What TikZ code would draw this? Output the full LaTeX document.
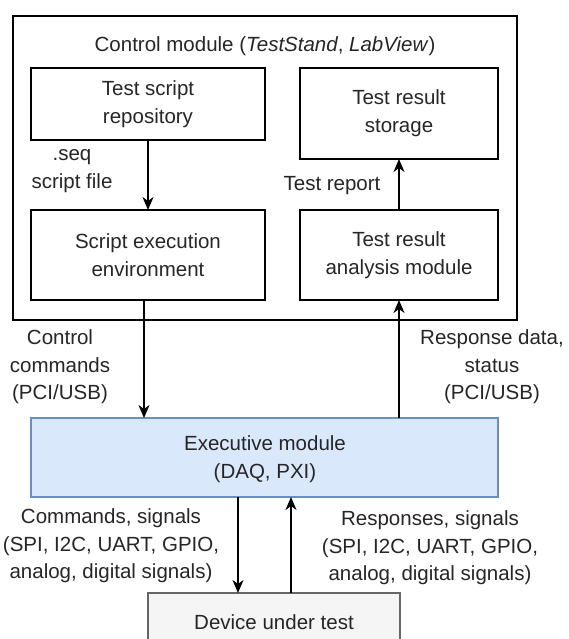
\documentclass[tikz,border=0pt]{standalone}
\usepackage{fontspec}
\setmainfont{Liberation Sans}
\usetikzlibrary{arrows.meta}
\definecolor{bluefill}{HTML}{DAE8FC}
\definecolor{blueline}{HTML}{6C8EBF}
\definecolor{greyfill}{HTML}{F5F5F5}
\definecolor{greyline}{HTML}{666666}
\begin{document}
\begin{tikzpicture}[x=1pt,y=-1pt,
  every node/.style={font=\fontsize{20.5}{27.5}\selectfont, align=center, inner sep=0pt},
  box/.style={draw=black, line width=1.4pt},
  lbl/.style={text=black!85},
  arr/.style={line width=1.4pt, -{Stealth[length=13pt,width=11pt,inset=4pt]}}]
\useasboundingbox (0,0) rectangle (568,639);
\clip (0,0) rectangle (568,639);
\fill[white] (0,0) rectangle (568,639);
% outer control module
\draw[box] (13,16) rectangle (517,320);
\node[lbl] (title) at (265,46) {Control module (\textit{TestStand}, \textit{LabView})};
% inner boxes
\draw[box] (31,68) rectangle (265,140);
\node[lbl] (repo) at (148,104) {Test script\\repository};
\coordinate (repoB) at (148,140);
\draw[box] (300,68) rectangle (498,159);
\node[lbl] (stor) at (399,113) {Test result\\storage};
\coordinate (storB) at (399,159);
\draw[box] (31,210) rectangle (265,300);
\node[lbl] (exe) at (148,255) {Script execution\\environment};
\coordinate (exeT) at (148,210);
\coordinate (exeB) at (144,300);
\draw[box] (300,210) rectangle (498,300);
\node[lbl] (ana) at (399,255) {Test result\\analysis module};
\coordinate (anaT) at (399,210);
\coordinate (anaB) at (399,300);
% executive module
\draw[draw=blueline, fill=bluefill, line width=1.4pt] (31,418) rectangle (498,497);
\node[lbl] (exec) at (265,459) {Executive module\\(DAQ, PXI)};
\coordinate (execTL) at (144,418);
\coordinate (execTR) at (399,418);
\coordinate (execBL) at (238,497);
\coordinate (execBR) at (291,497);
% device
\draw[draw=greyline, fill=greyfill, line width=1.4pt] (148,593) rectangle (400,660);
\node[lbl] (dut) at (274,622) {Device under test};
\coordinate (dutL) at (238,593);
\coordinate (dutR) at (291,593);
% arrows
\draw[arr] (repoB) -- (exeT);
\draw[arr] (anaT) -- (storB);
\draw[arr] (exeB) -- (execTL);
\draw[arr] (execTR) -- (anaB);
\draw[arr] (execBL) -- (dutL);
\draw[arr] (dutR) -- (execBR);
% labels
\node[lbl] (seq) at (72,171) {.seq\\script file};
\node[lbl] (rep) at (332,186) {Test report};
\node[lbl] (ctl) at (60,367) {Control\\commands\\(PCI/USB)};
\node[lbl] (resp) at (492,367) {Response data,\\status\\(PCI/USB)};
\node[lbl] (cmds) at (111,546) {Commands, signals\\(SPI, I2C, UART, GPIO,\\analog, digital signals)};
\node[lbl] (rsps) at (430,548) {Responses, signals\\(SPI, I2C, UART, GPIO,\\analog, digital signals)};
\end{tikzpicture}
\end{document}
